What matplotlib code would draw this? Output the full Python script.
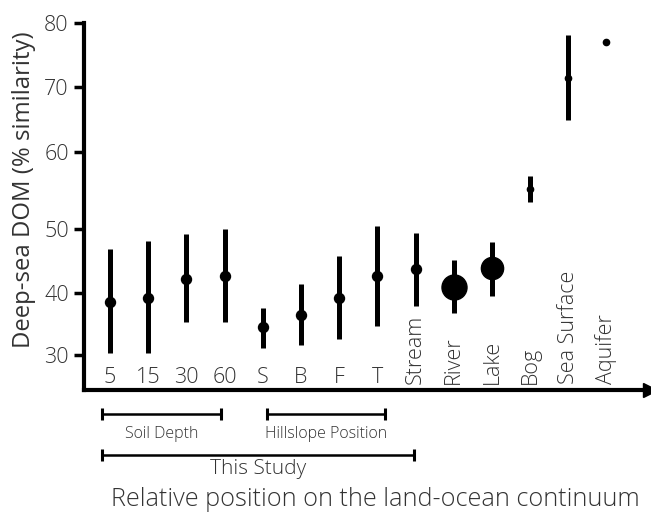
import numpy as np
import matplotlib
matplotlib.use('Agg')
import matplotlib.pyplot as plt
import matplotlib.transforms as mtransforms

plt.rcParams['font.family'] = ['Open Sans', 'DejaVu Sans']
plt.rcParams['font.weight'] = 'light'

# data
labels = ['5', '15', '30', '60', 'S', 'B', 'F', 'T',
          'Stream', 'River', 'Lake', 'Bog', 'Sea Surface', 'Aquifer']
means = [38.6, 39.3, 42.2, 42.6, 34.5, 36.5, 39.3, 42.7,
         43.8, 41.0, 43.9, 55.2, 71.4, 77.0]
lows = [30.3, 30.3, 35.3, 35.3, 31.1, 31.6, 32.7, 34.8,
        38.0, 36.9, 39.6, 53.5, 64.8, 77.0]
highs = [46.8, 48.1, 49.2, 50.0, 37.7, 41.4, 45.7, 50.4,
         49.4, 45.2, 48.0, 56.9, 78.1, 77.0]
msizes = [7.2, 7.2, 7.2, 7.2, 7.2, 7.2, 7.2, 7.2,
          7.2, 18, 16, 4.5, 4.5, 4.5]
rotated = [False] * 8 + [True] * 6

brackets = [('Soil Depth', 0.8, 3.9, -0.065, -0.12, 11.5),
            ('Hillslope Position', 5.1, 8.2, -0.065, -0.12, 11.5),
            ('This Study', 0.8, 8.95, -0.177, -0.215, 15)]

# the y axis of the original is not evenly spaced
knots = [20, 30, 40, 50, 60, 70, 80, 90]
heights = [-27.3, 34.7, 96.7, 161.3, 238.3, 303.3, 367.3, 431.3]


def fwd(v):
    return np.interp(v, knots, heights)


def inv(h):
    return np.interp(h, heights, knots)


fig = plt.figure(figsize=(6.51, 5.14), dpi=100)
ax = fig.add_axes([84 / 651, 1 - 390 / 514, (650 - 84) / 651, (390 - 22.7) / 514])
ax.set_yscale('function', functions=(fwd, inv))

x = np.arange(1, len(labels) + 1)
for xi, m, lo, hi, ms in zip(x, means, lows, highs, msizes):
    if hi > lo:
        ax.plot([xi, xi], [lo, hi], color='black', lw=3.6, solid_capstyle='butt', zorder=2)
    ax.plot(xi, m, 'o', color='black', markersize=ms, zorder=3)

ax.set_xlim(0.32, 15.14)
ax.set_ylim(24.4, 80)
ax.set_yticks([30, 40, 50, 60, 70, 80])
ax.set_xticks([])
ax.tick_params(axis='y', length=7, width=2.5, labelsize=15.5, labelcolor='#333333', pad=4)
ax.yaxis.set_minor_locator(matplotlib.ticker.NullLocator())

for s in ['top', 'right']:
    ax.spines[s].set_visible(False)
for s in ['left', 'bottom']:
    ax.spines[s].set_linewidth(3)
ax.plot(1, 0, '>', color='black', markersize=10, transform=ax.transAxes, clip_on=False)

trans = mtransforms.blended_transform_factory(ax.transData, ax.transAxes)
for xi, lab, rot in zip(x, labels, rotated):
    if rot:
        ax.text(xi, 0.017, lab, rotation=90, ha='center', va='bottom',
                fontsize=15.5, color='#333333', transform=trans)
    else:
        ax.text(xi, 0.02, lab, ha='center', va='baseline',
                fontsize=15.5, color='#333333', transform=trans)

for name, x0, x1, yb, yt, fs in brackets:
    ax.plot([x0, x1], [yb, yb], color='black', lw=1.8, transform=trans, clip_on=False)
    ax.plot([x0, x1], [yb, yb], '|', color='black', markersize=8, mew=2.2,
            transform=trans, clip_on=False)
    ax.text((x0 + x1) / 2, yt, name, ha='center', va='center', fontsize=fs,
            color='#333333', transform=trans)

ax.set_ylabel('Deep-sea DOM (% similarity)', fontsize=17.2, color='#333333')
ax.yaxis.set_label_coords(-0.085, 0.545)
fig.text(375 / 651, 1 - 500 / 514, 'Relative position on the land-ocean continuum',
         ha='center', va='center', fontsize=18.2, color='#333333')

fig.savefig('out.png', dpi=100)
